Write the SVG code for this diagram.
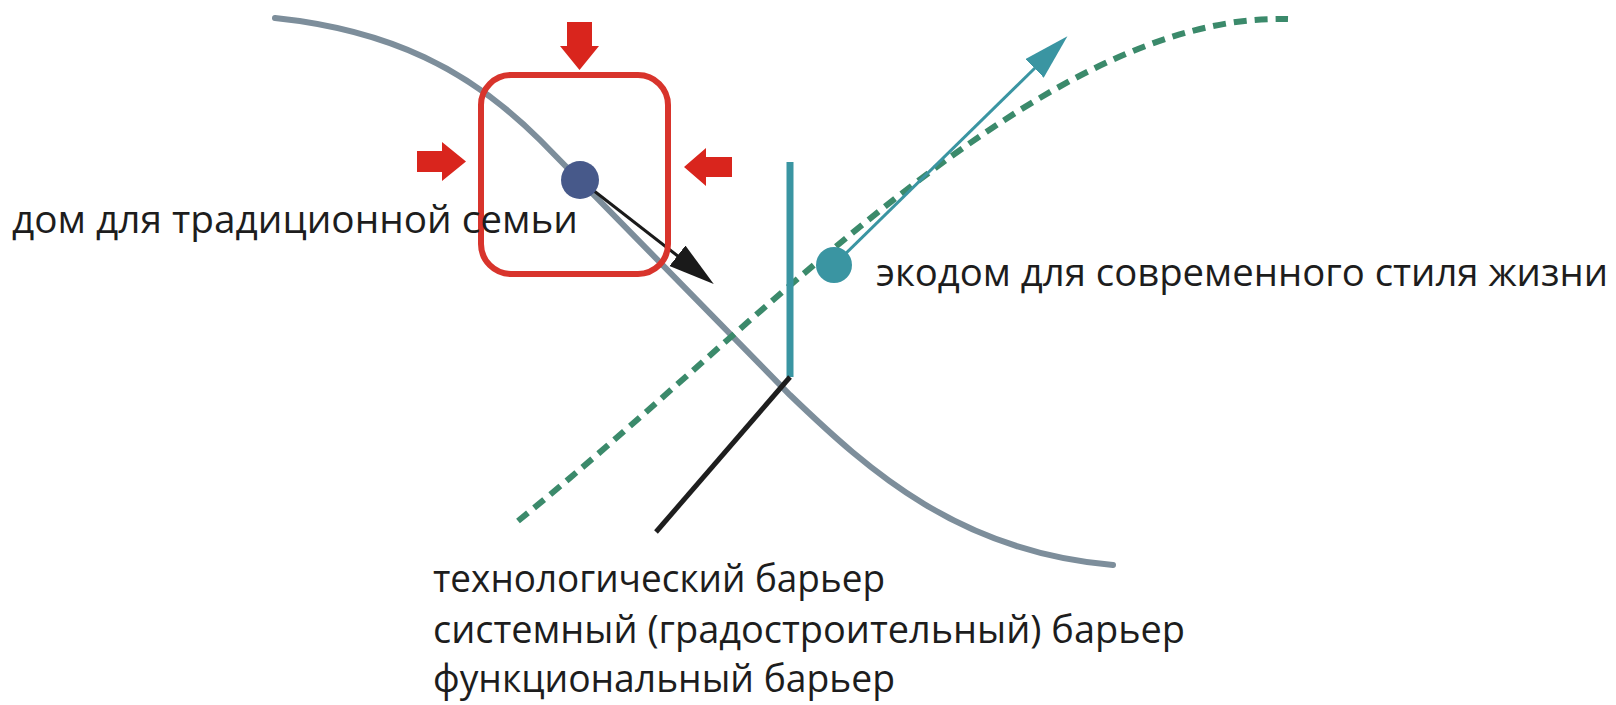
<svg xmlns="http://www.w3.org/2000/svg" width="1616" height="705" viewBox="0 0 1616 705">
  <style>
    .lbl { font-family: "Open Sans", "Noto Sans", "DejaVu Sans", sans-serif; font-size: 38px; fill: #1d1d1d; }
    .trend { fill: none; stroke: #7d8e9b; stroke-width: 6; stroke-linecap: round; }
    .eco { fill: none; stroke: #3b8a6b; stroke-width: 6; stroke-dasharray: 13 8; }
    .press { fill: #d9251d; }
    .frame { fill: none; stroke: #d8342c; stroke-width: 6; }
  </style>
  <defs>
    <marker id="headDark" markerUnits="userSpaceOnUse" markerWidth="48" markerHeight="28" refX="2" refY="13" orient="auto">
      <path d="M0,0 L46,13 L0,26 Z" fill="#1a1a1a"/>
    </marker>
    <marker id="headTeal" markerUnits="userSpaceOnUse" markerWidth="48" markerHeight="28" refX="2" refY="13" orient="auto">
      <path d="M0,0 L46,13 L0,26 Z" fill="#3a95a2"/>
    </marker>
  </defs>

  <rect width="1616" height="705" fill="#ffffff"/>

  <!-- curves and vectors -->
  <g id="connectors">
    <path class="trend" d="M275,18 C390,30 470,70 540,140 L790,395 C870,472 960,552 1113,565"/>
    <path class="eco" d="M518,521 C760,326 1040,12 1288,19"/>
    <line x1="580" y1="180" x2="679" y2="257" stroke="#1a1a1a" stroke-width="3" marker-end="url(#headDark)"/>
    <line x1="834" y1="265" x2="1036" y2="67" stroke="#3a95a2" stroke-width="3" marker-end="url(#headTeal)"/>
  </g>

  <!-- traditional house under pressure -->
  <g id="traditional-house">
    <rect class="frame" x="481" y="75" width="187" height="199" rx="30" ry="30"/>
    <path class="press" d="M567,22 H592 V46 H599 L579.5,70 L560,46 H567 Z"/>
    <path class="press" d="M417,151 H442 V142 L466,161.5 L442,181 V172 H417 Z"/>
    <path class="press" d="M732,157 H706 V148 L684,167 L706,186 V177 H732 Z"/>
    <circle cx="580" cy="180" r="19" fill="#47598a"/>
    <text class="lbl" x="12" y="233" textLength="566" lengthAdjust="spacingAndGlyphs">дом для традиционной семьи</text>
  </g>

  <!-- eco house -->
  <g id="eco-house">
    <circle cx="834" cy="265" r="18" fill="#3a95a2"/>
    <text class="lbl" x="876" y="286" textLength="732" lengthAdjust="spacingAndGlyphs">экодом для современного стиля жизни</text>
  </g>

  <!-- barriers -->
  <g id="barriers">
    <line x1="790" y1="162" x2="790" y2="377" stroke="#3a95a2" stroke-width="7"/>
    <line x1="790" y1="377" x2="656" y2="532" stroke="#1e1e1e" stroke-width="5"/>
    <text class="lbl" x="433" y="592" textLength="452" lengthAdjust="spacingAndGlyphs">технологический барьер</text>
    <text class="lbl" x="433" y="643" textLength="752" lengthAdjust="spacingAndGlyphs">системный (градостроительный) барьер</text>
    <text class="lbl" x="433" y="692" textLength="462" lengthAdjust="spacingAndGlyphs">функциональный барьер</text>
  </g>
</svg>
